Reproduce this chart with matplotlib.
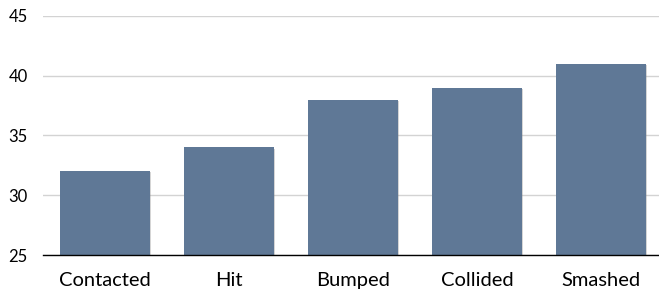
import matplotlib
matplotlib.use("Agg")
import matplotlib.pyplot as plt
import matplotlib.patheffects as pe

categories = ["Contacted", "Hit", "Bumped", "Collided", "Smashed"]
values = [32, 34, 38, 39, 41]
yticks = [25, 30, 35, 40, 45]

plt.rcParams['font.family'] = ['Lato', 'DejaVu Sans']

fig = plt.figure(figsize=(6.59, 2.94), dpi=100)
ax = fig.add_axes([43/659, 39/294, 620/659, 239/294])
ax.set_clip_on(False)

bars = ax.bar(range(len(categories)), [v - 25 for v in values], bottom=25,
              width=0.726, color="#5f7896", zorder=3)
for b in bars:
    b.set_path_effects([pe.SimplePatchShadow(offset=(0.8, -0.8), shadow_rgbFace="#888888", alpha=0.35), pe.Normal()])

ax.set_xlim(-0.5, len(categories) - 0.5)
ax.set_ylim(25, 45)
ax.set_yticks(yticks)
ax.set_yticklabels([str(t) for t in yticks], fontsize=12)
ax.set_xticks(range(len(categories)))
ax.set_xticklabels(categories, fontsize=14.5)
ax.tick_params(axis='both', length=0)
ax.tick_params(axis='y', pad=11)
ax.tick_params(axis='x', pad=12)
ax.yaxis.grid(True, color="#d3d3d3", linewidth=1.0, zorder=0)
for s in ["top", "right", "left"]:
    ax.spines[s].set_visible(False)
ax.spines["bottom"].set_color("black")
ax.spines["bottom"].set_linewidth(1.0)
ax.spines["bottom"].set_zorder(4)

fig.savefig("out.png", dpi=100)
